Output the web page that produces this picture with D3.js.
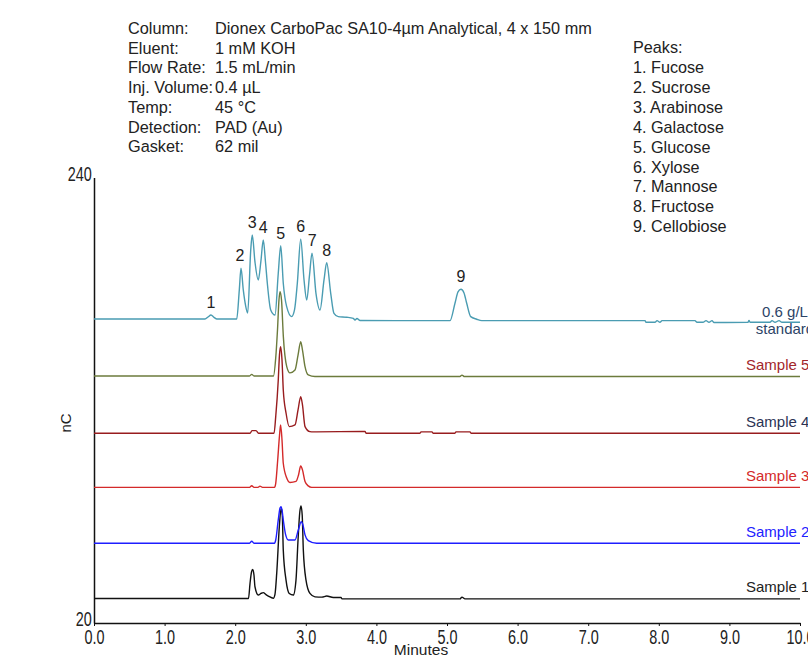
<!DOCTYPE html>
<html lang="en">

<head>
    <meta charset="UTF-8">
    <title>Carbohydrate Separation on CarboPac SA10-4µm</title>
    <script src="https://d3js.org/d3.v7.min.js" charset="utf-8"></script>
    <style>
        body { margin: 0; background: #fff; }
        svg { display: block; font-family: Arial, "Liberation Sans", sans-serif; }
    </style>
</head>

<body>

    <div id="graph"></div>

    <script>
        // Method conditions (top left block)
        const conditionLabels = ["Column:", "Eluent:", "Flow Rate:", "Inj. Volume:", "Temp:", "Detection:", "Gasket:"];
        const conditionValues = ["Dionex CarboPac SA10-4µm Analytical, 4 x 150 mm", "1 mM KOH", "1.5 mL/min", "0.4 µL", "45 °C", "PAD (Au)", "62 mil"];

        // Peak list (top right block)
        const peakNames = ["Fucose", "Sucrose", "Arabinose", "Galactose", "Glucose", "Xylose", "Mannose", "Fructose", "Cellobiose"];

        // Peak numbers on the standard trace: retention time (min) and apex (nC)
        const peakTimes = [1.657, 2.068, 2.242, 2.398, 2.645, 2.928, 3.092, 3.296, 5.198];
        const peakApex = [172.1, 195.2, 211.6, 209.1, 206.3, 209.5, 202.6, 197.9, 184.8];

        const xTicks = [0, 1, 2, 3, 4, 5, 6, 7, 8, 9, 10];
        const yTicks = [20, 240];

        // Traces as [minutes, nC]
        const standard = [
            [0, 170.1], [1.572, 170.1], [1.615, 171.1], [1.657, 172.1], [1.700, 170.9], [1.742, 170.1],
            [2.021, 170.1], [2.058, 184.4], [2.082, 195.2], [2.115, 184.4], [2.146, 177.0], [2.177, 173.1],
            [2.220, 204.2], [2.242, 211.6], [2.280, 198.3], [2.327, 189.4], [2.363, 198.3], [2.398, 209.1],
            [2.429, 198.3], [2.455, 187.8], [2.503, 174.6], [2.564, 172.1], [2.610, 192.7], [2.645, 206.3],
            [2.681, 187.8], [2.729, 176.2], [2.800, 171.3], [2.840, 174.6], [2.880, 187.8], [2.928, 209.5],
            [2.975, 189.4], [3.013, 179.5], [3.053, 191.9], [3.088, 202.6], [3.144, 182.8], [3.201, 174.6],
            [3.258, 189.4], [3.296, 197.9], [3.353, 182.8], [3.399, 172.9], [3.460, 171.3], [3.579, 171.0],
            [3.673, 170.4], [3.697, 169.6], [3.725, 170.4], [3.768, 169.4], [5.042, 169.3], [5.113, 177.9],
            [5.156, 183.5], [5.198, 184.8], [5.241, 183.0], [5.279, 177.9], [5.336, 171.3], [5.421, 170.0],
            [5.492, 169.3], [7.805, 169.3], [7.819, 168.5], [7.946, 168.5], [7.975, 169.3], [8.017, 168.5],
            [8.045, 169.3], [8.513, 169.3], [8.541, 168.5], [8.626, 168.5], [8.669, 169.3], [8.711, 168.5],
            [8.754, 169.3], [8.782, 168.4], [9.263, 168.5], [9.278, 169.4], [9.292, 168.5], [9.575, 168.5],
            [9.603, 169.3], [9.646, 168.5], [9.703, 169.3], [9.745, 168.5], [10, 168.5]
        ];

        const sample5 = [
            [0, 142.0], [2.203, 142.0], [2.234, 142.8], [2.266, 142.0], [2.542, 142.0], [2.574, 150.9],
            [2.599, 164.7], [2.620, 179.5], [2.635, 183.6], [2.656, 179.5], [2.682, 161.4], [2.730, 146.6],
            [2.776, 143.5], [2.847, 144.9], [2.890, 152.3], [2.928, 158.9], [2.953, 154.8], [2.989, 146.6],
            [3.035, 142.5], [3.130, 141.7], [5.184, 141.7], [5.212, 142.4], [5.248, 141.7], [10, 141.7]
        ];

        const sample4 = [
            [0, 113.7], [2.210, 113.7], [2.238, 115.0], [2.295, 115.0], [2.330, 113.7], [2.550, 113.7],
            [2.574, 121.9], [2.610, 140.0], [2.627, 152.3], [2.643, 156.4], [2.663, 149.9], [2.681, 135.1],
            [2.720, 123.7], [2.766, 117.0], [2.847, 117.8], [2.890, 125.2], [2.928, 131.8], [2.953, 127.7],
            [2.989, 117.0], [3.059, 114.5], [3.106, 114.4], [3.839, 114.6], [3.853, 113.7], [4.618, 113.7],
            [4.632, 114.4], [4.788, 114.4], [4.802, 113.7], [5.113, 113.7], [5.127, 114.4], [5.326, 114.4],
            [5.340, 113.7], [10, 113.7]
        ];

        const sample3 = [
            [0, 87.0], [2.203, 87.0], [2.234, 87.8], [2.266, 87.0], [2.323, 87.0], [2.351, 87.6],
            [2.387, 87.0], [2.557, 87.0], [2.574, 89.0], [2.602, 100.5], [2.628, 112.8], [2.643, 117.8],
            [2.663, 110.4], [2.681, 98.9], [2.730, 91.6], [2.776, 89.4], [2.861, 89.9], [2.897, 93.1],
            [2.928, 97.5], [2.953, 95.6], [2.989, 89.9], [3.035, 87.7], [3.083, 87.0], [10, 87.0]
        ];

        const sample2 = [
            [0, 59.4], [2.203, 59.4], [2.234, 60.4], [2.266, 59.4], [2.557, 59.4], [2.574, 61.0],
            [2.610, 70.9], [2.635, 76.8], [2.649, 77.4], [2.663, 75.8], [2.681, 70.9], [2.715, 63.5],
            [2.752, 61.0], [2.847, 61.0], [2.894, 65.9], [2.936, 70.0], [2.960, 68.4], [2.989, 63.5],
            [3.035, 60.7], [3.154, 59.4], [10, 59.4]
        ];

        const sample1 = [
            [0, 32.1], [2.188, 32.1], [2.210, 39.6], [2.231, 45.2], [2.248, 46.5], [2.266, 43.7],
            [2.280, 37.9], [2.327, 33.8], [2.365, 34.6], [2.398, 35.0], [2.436, 34.0], [2.469, 33.3],
            [2.540, 32.2], [2.564, 34.3], [2.588, 44.5], [2.625, 67.6], [2.642, 74.8], [2.653, 76.6],
            [2.667, 73.3], [2.681, 56.0], [2.720, 41.2], [2.766, 34.6], [2.823, 33.8], [2.861, 41.2],
            [2.890, 61.0], [2.915, 74.8], [2.932, 77.8], [2.949, 73.3], [2.965, 56.0], [3.003, 41.2],
            [3.059, 34.6], [3.130, 32.9], [3.229, 32.8], [3.296, 33.3], [3.390, 32.6], [3.499, 32.6],
            [3.513, 31.9], [5.184, 31.9], [5.212, 32.8], [5.255, 31.9], [10, 31.9]
        ];

        // Drawing order matters: later traces sit on top
        const traces = [
            { data: standard, color: "#4a9cb2", label: ["0.6 g/L", "standard"], labelColor: "#2c4467" },
            { data: sample5, color: "#6c7b3c", label: ["Sample 5"], labelColor: "#a2262b" },
            { data: sample4, color: "#981c1e", label: ["Sample 4"], labelColor: "#2b3354" },
            { data: sample3, color: "#d42a2a", label: ["Sample 3"], labelColor: "#d42a2a" },
            { data: sample1, color: "#111111", label: ["Sample 1"], labelColor: "#222222" },
            { data: sample2, color: "#1e1eff", label: ["Sample 2"], labelColor: "#2222ff" }
        ];

        const width = 808, height = 658;

        const svg = d3.select("#graph")
            .append("svg")
            .attr("width", width)
            .attr("height", height);

        const x = d3.scaleLinear().domain([0, 10]).range([94, 800]);
        const y = d3.scaleLinear().domain([20, 240]).range([623, 177.5]);

        // Conditions text
        const cond = svg.append("g").attr("font-size", "16.3px").attr("fill", "#222");
        conditionLabels.forEach((lab, i) => {
            cond.append("text").attr("x", 128).attr("y", 34 + i * 19.7).text(lab);
            cond.append("text").attr("x", 215).attr("y", 34 + i * 19.7).text(conditionValues[i]);
        });

        // Peak names
        const plist = svg.append("g").attr("font-size", "16.2px").attr("fill", "#222");
        plist.append("text").attr("x", 633).attr("y", 52.5).text("Peaks:");
        peakNames.forEach((name, i) => {
            plist.append("text").attr("x", 633).attr("y", 73 + i * 19.9).text(`${i + 1}. ${name}`);
        });

        // Axes - tall condensed tick labels
        const xAxis = svg.append("g")
            .attr("transform", `translate(0,${y(20)})`)
            .call(d3.axisBottom(x).tickValues(xTicks).tickFormat(d3.format(".1f")).tickSizeInner(3).tickSizeOuter(0).tickPadding(4));

        const yAxis = svg.append("g")
            .attr("transform", `translate(${x(0)},0)`)
            .call(d3.axisLeft(y).tickValues(yTicks).tickSize(0).tickPadding(3));

        [xAxis, yAxis].forEach(ax => {
            ax.select(".domain").attr("stroke", "#111").attr("stroke-width", 1.5);
            ax.selectAll(".tick line").attr("stroke", "#111");
            ax.selectAll(".tick text")
                .attr("font-family", "Arial, 'Liberation Sans', sans-serif")
                .attr("font-size", "19.5px")
                .attr("fill", "#222")
                .attr("transform", "scale(0.74,1)");
        });
        yAxis.selectAll(".tick text").attr("dy", "0.14em");

        svg.append("text")
            .attr("x", 421).attr("y", 655)
            .attr("text-anchor", "middle")
            .attr("font-size", "15.5px")
            .attr("fill", "#222")
            .text("Minutes");

        svg.append("text")
            .attr("transform", "translate(71,423) rotate(-90)")
            .attr("text-anchor", "middle")
            .attr("font-size", "15px")
            .attr("fill", "#222")
            .text("nC");

        // Chromatogram traces
        const line = d3.line()
            .x(d => x(d[0]))
            .y(d => y(d[1]))
            .curve(d3.curveMonotoneX);

        traces.forEach(t => {
            svg.append("path")
                .datum(t.data)
                .attr("fill", "none")
                .attr("stroke", t.color)
                .attr("stroke-width", 1.4)
                .attr("d", line);
        });

        // Trace labels at the right end
        traces.forEach(t => {
            const base = y(t.data[t.data.length - 1][1]);
            const lab = svg.append("text")
                .attr("font-size", "15px")
                .attr("fill", t.labelColor);
            if (t.label.length === 2) {
                lab.attr("text-anchor", "middle");
                lab.append("tspan").attr("x", 785).attr("y", base - 5).text(t.label[0]);
                lab.append("tspan").attr("x", 785).attr("y", base + 12).text(t.label[1]);
            } else {
                lab.attr("text-anchor", "start")
                    .attr("x", 746)
                    .attr("y", base - 6.5)
                    .text(t.label[0]);
            }
        });

        // Peak numbers above the standard trace
        svg.append("g")
            .selectAll("text")
            .data(peakTimes)
            .enter()
            .append("text")
            .attr("x", d => x(d))
            .attr("y", (d, i) => y(peakApex[i]) - 7)
            .attr("text-anchor", "middle")
            .attr("font-size", "16px")
            .attr("fill", "#222")
            .text((d, i) => i + 1);
    </script>

</body>

</html>
